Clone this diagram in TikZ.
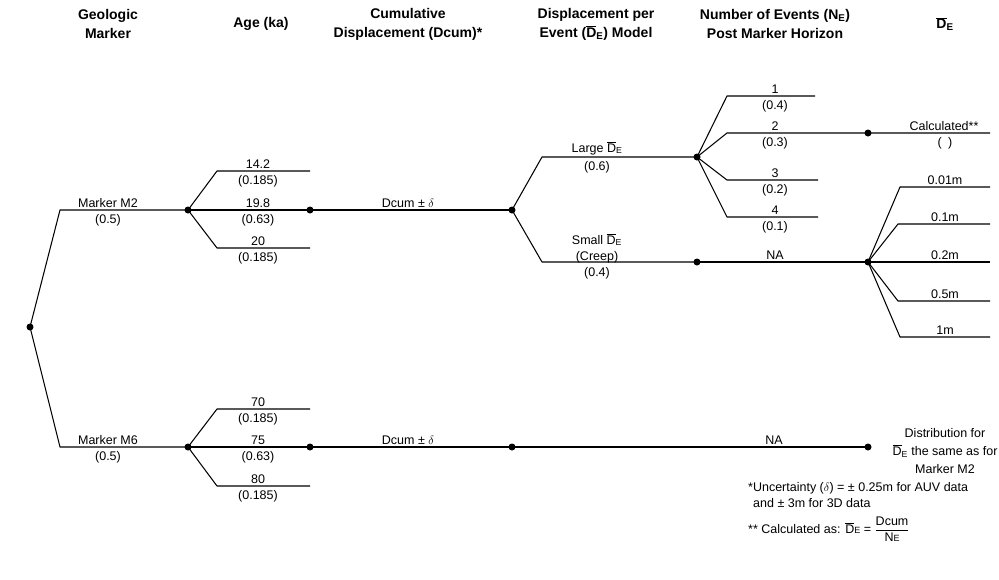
\documentclass[tikz,border=0pt]{standalone}
\usepackage{fontspec}
\setmainfont{Liberation Sans}
\newcommand{\DEbar}{\ensuremath{\overline{\mbox{D}}}\textsubscript{E}}
\newcommand{\DEflat}{\ensuremath{\overline{\mbox{D}}}\mbox{\fontsize{9}{9}\selectfont E}}
\tikzset{
  br/.style={line width=1.05pt, line join=round},
  dot/.style={circle, fill=black, inner sep=0pt, minimum size=7pt},
  lab/.style={font=\fontsize{12.5}{15}\selectfont, inner sep=0pt, anchor=base},
  hdr/.style={font=\bfseries\fontsize{14}{19}\selectfont, align=center, inner sep=0pt},
}
\begin{document}
\begin{tikzpicture}[x=1pt,y=-1pt]
\useasboundingbox (0,0) rectangle (999,579);

% headers
\node[hdr] (h1) at (108,24) {Geologic\\Marker};
\node[hdr] (h2) at (261,24) {Age (ka)};
\node[hdr] (h3) at (408,24) {Cumulative\\Displacement (Dcum)*};
\node[hdr] (h4) at (596,24) {Displacement per\\Event (\DEbar) Model};
\node[hdr] (h5) at (775,24) {Number of Events (N\textsubscript{E})\\Post Marker Horizon};
\node[hdr] (h6) at (945,24) {\DEbar};

% dots
\node[dot] (root) at (30,327) {};
\node[dot] (m2) at (188,210) {};
\node[dot] (m6) at (188,447) {};
\node[dot] (a2) at (310,210) {};
\node[dot] (a6) at (310,447) {};
\node[dot] (d2) at (512,210) {};
\node[dot] (d6) at (512,447) {};
\node[dot] (lg) at (697,157) {};
\node[dot] (sm) at (697,262) {};
\node[dot] (c2) at (868,133) {};
\node[dot] (sm2) at (868,262) {};
\node[dot] (m6e) at (868,447) {};

% coordinates
\coordinate (m2c) at (60,210);
\coordinate (m6c) at (60,447);
\coordinate (a2u) at (217,171); \coordinate (a2ue) at (310,171);
\coordinate (a2l) at (217,248); \coordinate (a2le) at (310,248);
\coordinate (a6u) at (217,409); \coordinate (a6ue) at (310,409);
\coordinate (a6l) at (217,486); \coordinate (a6le) at (310,486);
\coordinate (lgc) at (542,157);
\coordinate (smc) at (542,262);
\coordinate (n1) at (727,96);  \coordinate (n1e) at (815,96);
\coordinate (n2) at (727,133);
\coordinate (n3) at (727,180); \coordinate (n3e) at (818,180);
\coordinate (n4) at (727,217); \coordinate (n4e) at (818,217);
\coordinate (c2e) at (990,133);
\coordinate (s1) at (900,187); \coordinate (s1e) at (990,187);
\coordinate (s2) at (898,224); \coordinate (s2e) at (990,224);
\coordinate (s3e) at (990,262);
\coordinate (s4) at (898,301); \coordinate (s4e) at (990,301);
\coordinate (s5) at (900,337); \coordinate (s5e) at (990,337);

% branches
\draw[br] (root.center) -- (m2c) -- (m2.center);
\draw[br] (root.center) -- (m6c) -- (m6.center);
\draw[br] (m2.center) -- (a2u) -- (a2ue);
\draw[br] (m2.center) -- (a2.center);
\draw[br] (m2.center) -- (a2l) -- (a2le);
\draw[br] (m6.center) -- (a6u) -- (a6ue);
\draw[br] (m6.center) -- (a6.center);
\draw[br] (m6.center) -- (a6l) -- (a6le);
\draw[br] (a2.center) -- (d2.center);
\draw[br] (a6.center) -- (d6.center);
\draw[br] (d2.center) -- (lgc) -- (lg.center);
\draw[br] (d2.center) -- (smc) -- (sm.center);
\draw[br] (lg.center) -- (n1) -- (n1e);
\draw[br] (lg.center) -- (n2) -- (c2.center) -- (c2e);
\draw[br] (lg.center) -- (n3) -- (n3e);
\draw[br] (lg.center) -- (n4) -- (n4e);
\draw[br] (sm.center) -- (sm2.center);
\draw[br] (sm2.center) -- (s1) -- (s1e);
\draw[br] (sm2.center) -- (s2) -- (s2e);
\draw[br] (sm2.center) -- (s3e);
\draw[br] (sm2.center) -- (s4) -- (s4e);
\draw[br] (sm2.center) -- (s5) -- (s5e);
\draw[br] (d6.center) -- (m6e.center);

% labels: markers
\node[lab] (lm2) at (108,207) {Marker M2};
\node[lab] (lm2p) at (108,223.5) {(0.5)};
\node[lab] (lm6) at (108,444) {Marker M6};
\node[lab] (lm6p) at (108,460.5) {(0.5)};

% ages
\node[lab] (g1) at (258,168) {14.2};
\node[lab] (g1p) at (258,184.5) {(0.185)};
\node[lab] (g2) at (258,207) {19.8};
\node[lab] (g2p) at (258,223.5) {(0.63)};
\node[lab] (g3) at (258,245) {20};
\node[lab] (g3p) at (258,261.5) {(0.185)};
\node[lab] (g4) at (258,406) {70};
\node[lab] (g4p) at (258,422.5) {(0.185)};
\node[lab] (g5) at (258,444) {75};
\node[lab] (g5p) at (258,460.5) {(0.63)};
\node[lab] (g6) at (258,483) {80};
\node[lab] (g6p) at (258,499.5) {(0.185)};

% dcum
\node[lab] (dc2) at (408,207) {Dcum ± $\delta$};
\node[lab] (dc6) at (408,444) {Dcum ± $\delta$};

% DE model
\node[lab] (lgl) at (597,152) {Large \DEbar};
\node[lab] (lgp) at (597,170.5) {(0.6)};
\node[lab] (sml) at (597,244) {Small \DEbar};
\node[lab] (smq) at (597,260) {(Creep)};
\node[lab] (smp) at (597,276) {(0.4)};

% number of events
\node[lab] (e1) at (775,93) {1};
\node[lab] (e1p) at (775,109.5) {(0.4)};
\node[lab] (e2) at (775,130) {2};
\node[lab] (e2p) at (775,146.5) {(0.3)};
\node[lab] (e3) at (775,177) {3};
\node[lab] (e3p) at (775,193.5) {(0.2)};
\node[lab] (e4) at (775,214) {4};
\node[lab] (e4p) at (775,230.5) {(0.1)};
\node[lab] (na1) at (775,259) {NA};
\node[lab] (na2) at (774,444) {NA};

% DE values
\node[lab] (calc) at (944,130) {Calculated**};
\node[lab] (calcp) at (945,146.5) {(\,\,\,)};
\node[lab] (v1) at (945,184) {0.01m};
\node[lab] (v2) at (945,221) {0.1m};
\node[lab] (v3) at (945,259) {0.2m};
\node[lab] (v4) at (945,298) {0.5m};
\node[lab] (v5) at (945,334) {1m};

\node[lab, anchor=center, align=center, font=\fontsize{12.5}{18}\selectfont] (dist) at (945,451)
  {Distribution for\\\DEbar{} the same as for\\Marker M2};

% footnotes
\node[lab, anchor=base west] (f1) at (748,491.5) {*Uncertainty ($\delta$) = ± 0.25m for AUV data};
\node[lab, anchor=base west] (f2) at (753,507.5) {and ± 3m for 3D data};
\node[lab, anchor=base west] (f3) at (748,533.5) {** Calculated as: \DEflat{} = $\displaystyle\frac{\mbox{Dcum}}{\mbox{N\fontsize{9}{9}\selectfont E}}$};
\end{tikzpicture}
\end{document}
